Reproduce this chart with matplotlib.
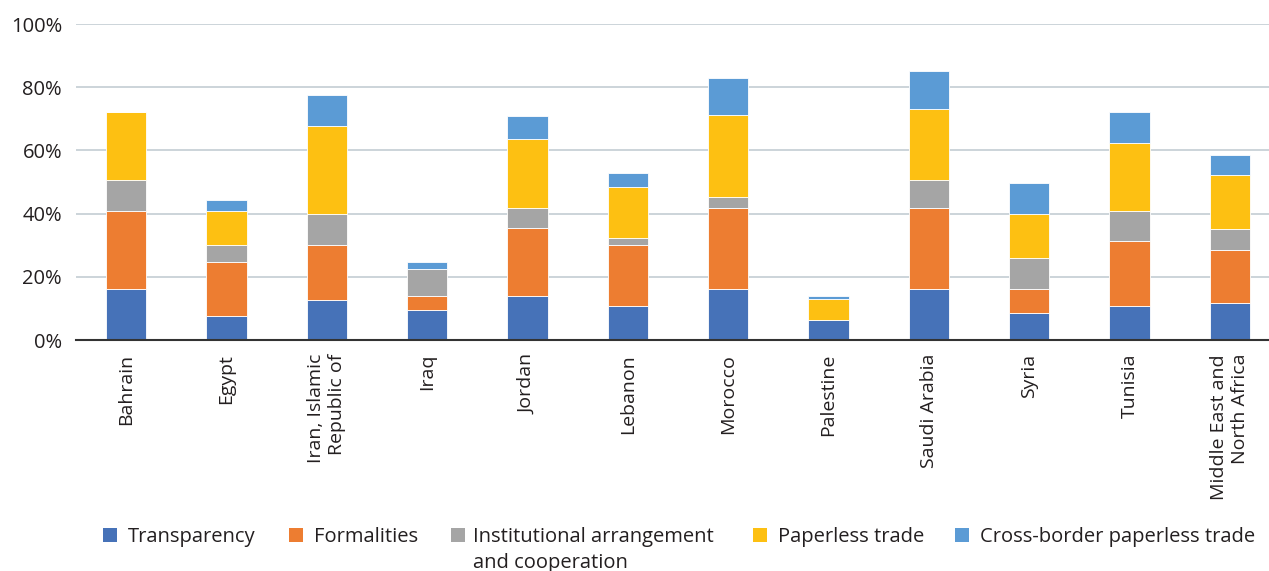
import matplotlib
matplotlib.use("Agg")
import matplotlib.pyplot as plt
import numpy as np
from matplotlib.ticker import FuncFormatter
from matplotlib.patches import Rectangle

plt.rcParams['font.family'] = ['Open Sans', 'DejaVu Sans']

categories = ["Bahrain", "Egypt", "Iran, Islamic\nRepublic of", "Iraq", "Jordan", "Lebanon",
              "Morocco", "Palestine", "Saudi Arabia", "Syria", "Tunisia", "Middle East and\nNorth Africa"]
series_names = ["Transparency", "Formalities", "Institutional arrangement\nand cooperation",
                "Paperless trade", "Cross-border paperless trade"]
transparency = [16.0, 7.6, 12.8, 9.6, 14.0, 10.9, 16.0, 6.4, 16.0, 8.7, 10.9, 11.6]
formalities = [24.8, 17.2, 17.3, 4.4, 21.5, 19.2, 25.9, 0.0, 25.9, 7.3, 20.4, 16.9]
institutional = [9.7, 5.3, 9.9, 8.5, 6.4, 2.1, 3.2, 0.0, 8.7, 9.9, 9.5, 6.6]
paperless = [21.5, 10.7, 27.8, 0.0, 21.7, 16.3, 26.0, 6.6, 22.6, 14.1, 21.6, 17.2]
crossborder = [0.0, 3.4, 9.6, 2.3, 7.4, 4.3, 11.7, 1.0, 11.8, 9.6, 9.6, 6.3]
colors = ["#4672B8", "#ED7D31", "#A5A5A5", "#FDC012", "#5B9BD5"]

W, H = 1269, 571
fig = plt.figure(figsize=(W/100, H/100), dpi=100)
ax = fig.add_axes([76/W, 1-340/H, (W-76)/W, 316/H])

x = np.arange(len(categories))
bottom = np.zeros(len(categories))
for vals, name, c in zip([transparency, formalities, institutional, paperless, crossborder], series_names, colors):
    v = np.array(vals)
    ax.bar(x, v, 0.4, bottom=bottom, color=c, edgecolor="white", linewidth=0.6, label=name, zorder=3)
    bottom += v

ax.set_ylim(0, 100)
ax.set_xlim(-0.5, 11.39)
ax.set_yticks([0, 20, 40, 60, 80, 100])
ax.yaxis.set_major_formatter(FuncFormatter(lambda v, p: f"{int(v)}%"))
ax.grid(axis="y", color="#C3CDD3", linewidth=1.2, zorder=0)
for s in ["top", "right", "left"]:
    ax.spines[s].set_visible(False)
ax.spines["bottom"].set_color("#333333")
ax.spines["bottom"].set_linewidth(1.5)
ax.spines["bottom"].set_zorder(4)
ax.tick_params(axis="both", length=0, colors="#231F20")
ax.tick_params(axis="y", pad=10, labelsize=14.5)
ax.tick_params(axis="x", pad=10, labelsize=14)
ax.set_xticks(x)
ax.set_xticklabels(categories, rotation=90, va="top", ha="center", multialignment="right")

# legend laid out like the reference (top lines aligned, wrapped label continues below)
marker_x = [103, 289, 451, 753, 955]
text_x = [128, 314, 473, 778, 980]
for mx, tx, name, c in zip(marker_x, text_x, series_names, colors):
    fig.add_artist(Rectangle((mx/W, 1-542/H), 14/W, 14/H, transform=fig.transFigure,
                             facecolor=c, edgecolor="none"))
    for i, line in enumerate(name.split("\n")):
        fig.text(tx/W, 1-(542 + 26*i)/H, line, fontsize=14.5, color="#231F20",
                 va="baseline", ha="left")

fig.savefig("out.png", dpi=100)
